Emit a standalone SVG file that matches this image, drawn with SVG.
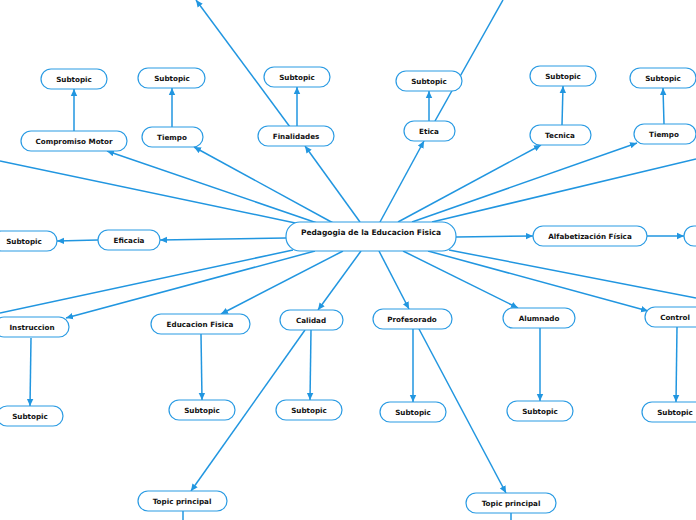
<svg xmlns="http://www.w3.org/2000/svg" width="696" height="520" viewBox="0 0 696 520">
<style>
.n rect{fill:#fff;stroke:#2a9be3;stroke-width:1.2}
.n text{font-family:"DejaVu Sans",sans-serif;font-weight:bold;font-size:7.2px;fill:#111;text-anchor:middle;dominant-baseline:central}
#c text{font-size:7.5px}
.e line{stroke:#2196e0;stroke-width:1.5;fill:none}
</style>
<defs>
<marker id="a" markerUnits="userSpaceOnUse" markerWidth="8" markerHeight="8" refX="7" refY="4" orient="auto">
<path d="M0,0.8 L7,4 L0,7.2 z" fill="#2196e0"/>
</marker>
</defs>
<rect width="696" height="520" fill="#fff"/>
<g class="e">
<line x1="320" y1="224" x2="107" y2="151" marker-end="url(#a)"/>
<line x1="335" y1="224" x2="194" y2="147" marker-end="url(#a)"/>
<line x1="360" y1="222" x2="305" y2="146" marker-end="url(#a)"/>
<line x1="380" y1="222" x2="424" y2="141" marker-end="url(#a)"/>
<line x1="398" y1="222" x2="541" y2="145" marker-end="url(#a)"/>
<line x1="412" y1="222" x2="637" y2="143" marker-end="url(#a)"/>
<line x1="300" y1="224" x2="0" y2="161"/>
<line x1="432" y1="222" x2="696" y2="159"/>
<line x1="286" y1="238" x2="160" y2="240" marker-end="url(#a)"/>
<line x1="98" y1="240" x2="57" y2="241" marker-end="url(#a)"/>
<line x1="456" y1="237" x2="533" y2="236" marker-end="url(#a)"/>
<line x1="647" y1="236" x2="684" y2="236" marker-end="url(#a)"/>
<line x1="293" y1="250" x2="0" y2="313"/>
<line x1="315" y1="251" x2="66" y2="318" marker-end="url(#a)"/>
<line x1="343" y1="251" x2="221" y2="314" marker-end="url(#a)"/>
<line x1="361" y1="251" x2="318" y2="310" marker-end="url(#a)"/>
<line x1="379" y1="251" x2="409" y2="309" marker-end="url(#a)"/>
<line x1="403" y1="251" x2="518" y2="308" marker-end="url(#a)"/>
<line x1="428" y1="251" x2="648" y2="311" marker-end="url(#a)"/>
<line x1="449" y1="250" x2="696" y2="298"/>
<line x1="74" y1="131" x2="74" y2="89" marker-end="url(#a)"/>
<line x1="172" y1="127" x2="172" y2="88" marker-end="url(#a)"/>
<line x1="297" y1="126" x2="297" y2="87" marker-end="url(#a)"/>
<line x1="290" y1="127" x2="196" y2="0" marker-end="url(#a)"/>
<line x1="429" y1="121" x2="429" y2="91" marker-end="url(#a)"/>
<line x1="435" y1="121" x2="503" y2="0"/>
<line x1="562" y1="125" x2="563" y2="86" marker-end="url(#a)"/>
<line x1="664" y1="124" x2="663" y2="88" marker-end="url(#a)"/>
<line x1="31" y1="338" x2="30" y2="406" marker-end="url(#a)"/>
<line x1="201" y1="334" x2="202" y2="400" marker-end="url(#a)"/>
<line x1="311" y1="330" x2="310" y2="400" marker-end="url(#a)"/>
<line x1="413" y1="329" x2="413" y2="402" marker-end="url(#a)"/>
<line x1="540" y1="328" x2="540" y2="401" marker-end="url(#a)"/>
<line x1="677" y1="327" x2="676" y2="402" marker-end="url(#a)"/>
<line x1="305" y1="330" x2="191" y2="491" marker-end="url(#a)"/>
<line x1="419" y1="329" x2="506" y2="493" marker-end="url(#a)"/>
<line x1="183" y1="511" x2="183" y2="520"/>
<line x1="511" y1="513" x2="511" y2="520"/>
</g>
<g id="c" class="n"><rect x="286" y="222" width="170" height="29" rx="14"/><text x="371" y="232.5">Pedagogia de la Educacion Fisica</text></g>
<g id="n1" class="n"><rect x="21" y="131" width="106" height="20" rx="10"/><text x="74" y="141.5">Compromiso Motor</text></g>
<g id="n1s" class="n"><rect x="41" y="69" width="66" height="20" rx="10"/><text x="74" y="79.5">Subtopic</text></g>
<g id="n2" class="n"><rect x="142" y="127" width="61" height="20" rx="10"/><text x="172" y="137.5">Tiempo</text></g>
<g id="n2s" class="n"><rect x="138" y="68" width="67" height="20" rx="10"/><text x="172" y="78.5">Subtopic</text></g>
<g id="n3" class="n"><rect x="258" y="126" width="76" height="20" rx="10"/><text x="296" y="136.5">Finalidades</text></g>
<g id="n3s" class="n"><rect x="264" y="67" width="66" height="20" rx="10"/><text x="297" y="77.5">Subtopic</text></g>
<g id="n4" class="n"><rect x="404" y="121" width="51" height="20" rx="10"/><text x="429" y="131.5">Etica</text></g>
<g id="n4s" class="n"><rect x="396" y="71" width="66" height="20" rx="10"/><text x="429" y="81.5">Subtopic</text></g>
<g id="n5" class="n"><rect x="530" y="125" width="61" height="20" rx="10"/><text x="560" y="135.5">Tecnica</text></g>
<g id="n5s" class="n"><rect x="530" y="66" width="66" height="20" rx="10"/><text x="563" y="76.5">Subtopic</text></g>
<g id="n6" class="n"><rect x="634" y="124" width="62" height="20" rx="10"/><text x="664" y="134.5">Tiempo</text></g>
<g id="n6s" class="n"><rect x="630" y="68" width="66" height="20" rx="10"/><text x="663" y="78.5">Subtopic</text></g>
<g id="n7" class="n"><rect x="98" y="230" width="62" height="20" rx="10"/><text x="129" y="240.5">Eficacia</text></g>
<g id="n7s" class="n"><rect x="-9" y="231" width="66" height="20" rx="10"/><text x="24" y="241.5">Subtopic</text></g>
<g id="n8" class="n"><rect x="533" y="226" width="114" height="20" rx="10"/><text x="590" y="236.5">Alfabetización Física</text></g>
<g id="n8s" class="n"><rect x="684" y="226" width="66" height="20" rx="10"/></g>
<g id="n9" class="n"><rect x="-6" y="317" width="75" height="20" rx="10"/><text x="32" y="327.5">Instruccion</text></g>
<g id="n9s" class="n"><rect x="-3" y="406" width="66" height="20" rx="10"/><text x="30" y="416.5">Subtopic</text></g>
<g id="n10" class="n"><rect x="151" y="314" width="99" height="20" rx="10"/><text x="200" y="324.5">Educacion Fisica</text></g>
<g id="n10s" class="n"><rect x="169" y="400" width="66" height="20" rx="10"/><text x="202" y="410.5">Subtopic</text></g>
<g id="n11" class="n"><rect x="280" y="310" width="63" height="20" rx="10"/><text x="311" y="320.5">Calidad</text></g>
<g id="n11s" class="n"><rect x="276" y="400" width="66" height="20" rx="10"/><text x="309" y="410.5">Subtopic</text></g>
<g id="n12" class="n"><rect x="373" y="309" width="79" height="20" rx="10"/><text x="412" y="319.5">Profesorado</text></g>
<g id="n12s" class="n"><rect x="380" y="402" width="66" height="20" rx="10"/><text x="413" y="412.5">Subtopic</text></g>
<g id="n13" class="n"><rect x="503" y="308" width="72" height="20" rx="10"/><text x="539" y="318.5">Alumnado</text></g>
<g id="n13s" class="n"><rect x="507" y="401" width="66" height="20" rx="10"/><text x="540" y="411.5">Subtopic</text></g>
<g id="n14" class="n"><rect x="645" y="307" width="61" height="20" rx="10"/><text x="675" y="317.5">Control</text></g>
<g id="n14s" class="n"><rect x="642" y="402" width="66" height="20" rx="10"/><text x="675" y="412.5">Subtopic</text></g>
<g id="n15" class="n"><rect x="138" y="491" width="89" height="20" rx="10"/><text x="182" y="501.5">Topic principal</text></g>
<g id="n16" class="n"><rect x="466" y="493" width="90" height="20" rx="10"/><text x="511" y="503.5">Topic principal</text></g>
</svg>
